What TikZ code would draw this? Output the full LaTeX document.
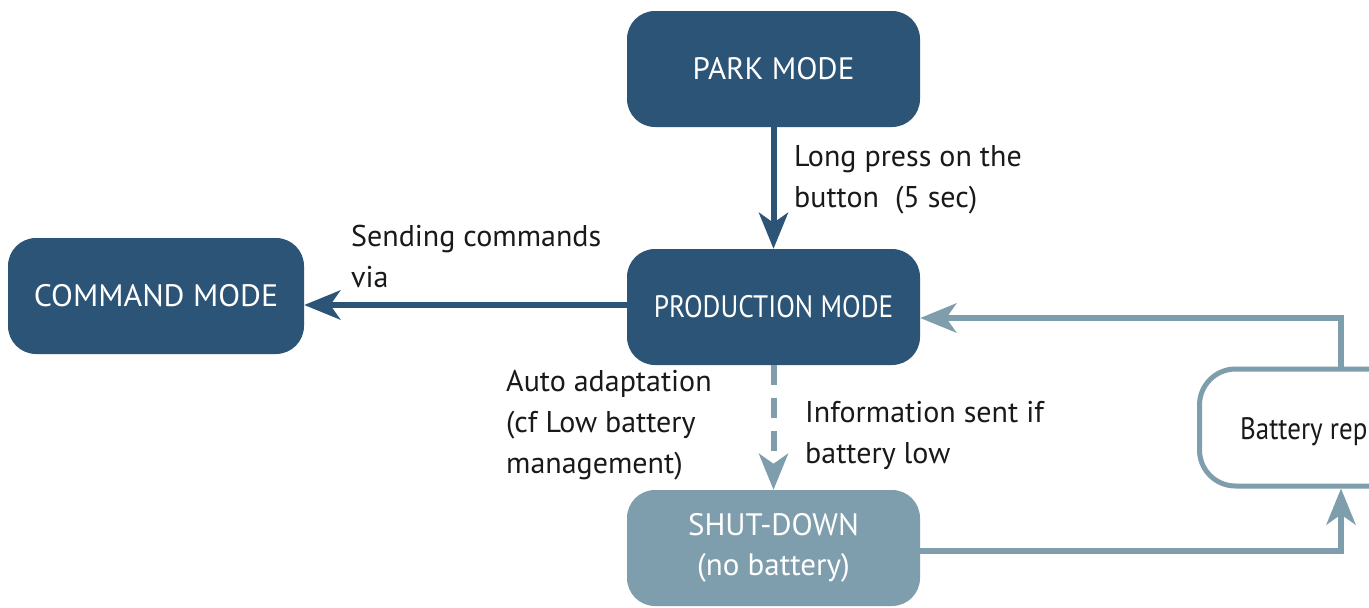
\documentclass[tikz,border=0pt]{standalone}
\usepackage{fontspec}
\setmainfont{PT Sans}
\usetikzlibrary{arrows.meta}
\definecolor{dark}{HTML}{2C5477}
\definecolor{light}{HTML}{7F9EAD}
\begin{document}
\begin{tikzpicture}[x=1pt,y=-1pt,
  box/.style={rounded corners=28pt, minimum width=293pt, minimum height=116pt,
    text=white, font=\fontsize{31}{40}\selectfont, align=center, inner sep=0pt},
  darkbox/.style={box, fill=dark},
  lightbox/.style={box, fill=light},
  darkarrow/.style={draw=dark, line width=6pt, -{Stealth[length=36pt,width=29pt,inset=10pt]}},
  lightarrow/.style={draw=light, line width=6pt, -{Stealth[length=36pt,width=29pt,inset=10pt]}},
  lbl/.style={font=\fontsize{30}{41}\selectfont, align=left, inner sep=0pt, anchor=north west, text=black!90}
]
\useasboundingbox (0,0) rectangle (1369,608);
\clip (0,0) rectangle (1369,608);
\fill[white] (0,0) rectangle (1369,608);

\node[darkbox] (park) at (773.5,69) {PARK MODE};
\node[darkbox] (prod) at (773.5,307) {\scalebox{0.88}[1]{PRODUCTION MODE}};
\node[darkbox, minimum width=296pt] (cmd) at (156,296) {\scalebox{1.03}[1]{COMMAND MODE}};
\node[lightbox] (shut) at (773.5,548) {SHUT-DOWN\\(no battery)};
\node[draw=light, line width=5pt, fill=white, rounded corners=36pt, anchor=west,
  minimum height=117pt, minimum width=330pt, inner xsep=0pt] (batt) at (1197,427.5) {};
\node[anchor=base west, inner sep=0pt, text=black!90, font=\fontsize{31}{35}\selectfont]
  (batttext) at (1240,439) {\scalebox{0.87}[1]{Battery rep}};

\coordinate (bx) at (1341,0);
\coordinate (ay) at (0,318);
\coordinate (sy) at (0,551);

\draw[darkarrow] (park) -- (prod);
\draw[darkarrow] (prod.west |- 0,305) -- (cmd.east |- 0,305);
\draw[lightarrow, dash pattern=on 20pt off 13pt] (prod) -- (shut);
\draw[lightarrow] (shut.east |- sy) -| (bx |- batt.south);
\draw[lightarrow] (bx |- batt.north) |- (prod.east |- ay);

\node[lbl] (l1) at (794,145) {Long press on the\\button~ (5 sec)};
\node[lbl] (l2) at (351,225) {Sending commands\\via};
\node[lbl] (l3) at (506,370) {Auto adaptation\\(cf Low battery\\management)};
\node[lbl] (l4) at (805,401) {Information sent if\\battery low};
\end{tikzpicture}
\end{document}
